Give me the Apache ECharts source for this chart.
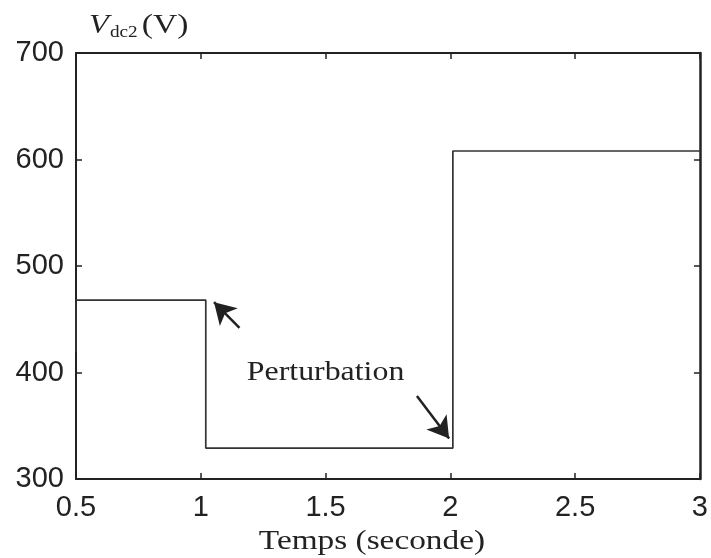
<!DOCTYPE html>
<html>
<head>
<meta charset="utf-8">
<script src="https://cdn.jsdelivr.net/npm/echarts@6/dist/echarts.min.js"></script>
<style>html,body{margin:0;padding:0;background:#fff;}#c{width:711px;height:558px;}</style>
</head>
<body>
<div id="c"></div>
<script>
// Data
var timeValues = [0.5, 0.5, 1.02, 1.02, 2.01, 2.01, 2.01, 3.0];
var vdc2Values = [419, 468, 468, 329, 329, 578, 608, 608];
var xTicks = [0.5, 1, 1.5, 2, 2.5, 3];
var yTicks = [300, 400, 500, 600, 700];
// Annotation arrows [from, to] in data coordinates
var arrow1 = [[1.155, 442], [1.053, 466]];
var arrow2 = [[1.866, 378], [1.995, 338]];
var annotationText = 'Perturbation';
var annotationPos = [1.5, 400];
var xTitle = 'Temps (seconde)';

var seriesData = timeValues.map(function (t, i) { return [t, vdc2Values[i]]; });

var chart = echarts.init(document.getElementById('c'));
var axisColor = '#222';
var sansFont = '"Liberation Sans", Arial, sans-serif';
var serifFont = '"Liberation Serif", "Times New Roman", serif';

function axisCommon() {
  return {
    axisLine: { show: true, lineStyle: { color: axisColor, width: 2 } },
    axisTick: { show: true, inside: true, length: 6, lineStyle: { color: axisColor, width: 1.5 } },
    splitLine: { show: false }
  };
}

var xMain = Object.assign(axisCommon(), {
  type: 'value', min: xTicks[0], max: xTicks[xTicks.length - 1], interval: 0.5, position: 'bottom',
  axisLabel: { color: '#222', fontSize: 29, fontFamily: sansFont, margin: 14 }
});
var xTop = Object.assign(axisCommon(), {
  type: 'value', min: xTicks[0], max: xTicks[xTicks.length - 1], interval: 0.5, position: 'top',
  axisLabel: { show: false }
});
var yMain = Object.assign(axisCommon(), {
  type: 'value', min: yTicks[0], max: yTicks[yTicks.length - 1], interval: 100, position: 'left',
  axisLabel: { color: '#222', fontSize: 29, fontFamily: sansFont, margin: 12 }
});
var yRight = Object.assign(axisCommon(), {
  type: 'value', min: yTicks[0], max: yTicks[yTicks.length - 1], interval: 100, position: 'right',
  axisLabel: { show: false }
});
yRight.axisLine.lineStyle.width = 2.5;

chart.setOption({
  animation: false,
  backgroundColor: '#fff',
  grid: { left: 76, right: 8, top: 53, bottom: 79, containLabel: false },
  xAxis: [xMain, xTop],
  yAxis: [yMain, yRight],
  series: [{
    type: 'line',
    xAxisIndex: 0, yAxisIndex: 0,
    data: seriesData,
    showSymbol: false,
    symbol: 'none',
    lineStyle: { color: '#333', width: 1.7 },
    markLine: {
      silent: true,
      symbol: ['none', 'arrow'],
      symbolSize: [19, 21],
      label: { show: false },
      lineStyle: { color: '#222', width: 2.5, type: 'solid' },
      data: [
        [{ coord: arrow1[0] }, { coord: arrow1[1] }],
        [{ coord: arrow2[0] }, { coord: arrow2[1] }]
      ]
    }
  }]
});

// Text annotations, anchored through the chart's own coordinate conversion
var annPx = chart.convertToPixel({ xAxisIndex: 0, yAxisIndex: 0 }, annotationPos);
var gridLeftPx = chart.convertToPixel({ xAxisIndex: 0 }, xTicks[0]);
var gridRightPx = chart.convertToPixel({ xAxisIndex: 0 }, xTicks[xTicks.length - 1]);
var gridBottomPx = chart.convertToPixel({ yAxisIndex: 0 }, yTicks[0]);
var gridTopPx = chart.convertToPixel({ yAxisIndex: 0 }, yTicks[yTicks.length - 1]);

chart.setOption({
  graphic: [{
    type: 'text', x: annPx[0], y: annPx[1], scaleX: 1.18,
    silent: true,
    style: {
      text: annotationText, align: 'center', verticalAlign: 'middle',
      font: '27px ' + serifFont, fill: '#222'
    }
  }, {
    type: 'text', x: (gridLeftPx + gridRightPx) / 2 - 16, y: gridBottomPx + 63, scaleX: 1.19,
    silent: true,
    style: {
      text: xTitle, align: 'center', verticalAlign: 'middle',
      font: '28px ' + serifFont, fill: '#222'
    }
  }, {
    type: 'text', x: gridLeftPx + 13, y: gridTopPx - 27, scaleX: 1.2,
    silent: true,
    style: {
      text: '{v|V}{s|dc2} {p|(V)}', align: 'left', verticalAlign: 'middle',
      rich: {
        v: { fontFamily: serifFont, fontStyle: 'italic', fontSize: 27, fill: '#222' },
        s: { fontFamily: serifFont, fontSize: 16, fill: '#222', padding: [14, 0, 0, 1] },
        p: { fontFamily: serifFont, fontSize: 28, fill: '#222' }
      }
    }
  }]
});
</script>
</body>
</html>
